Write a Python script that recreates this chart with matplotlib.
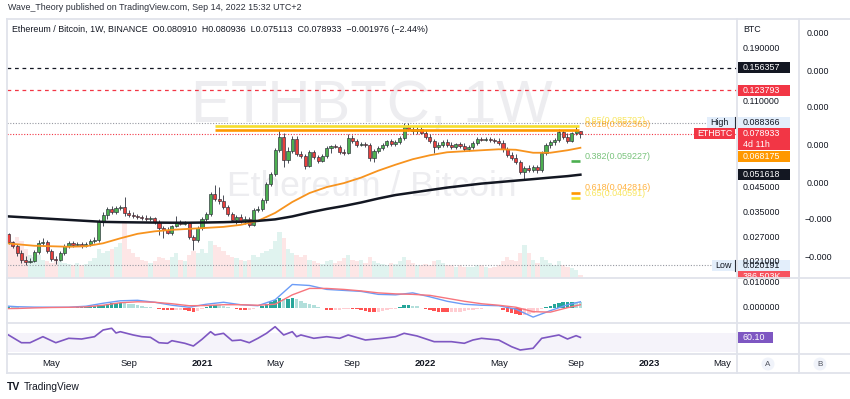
import matplotlib
matplotlib.use("Agg")
import matplotlib.pyplot as plt
import numpy as np
import pandas as pd
from matplotlib.patches import Rectangle, Circle

plt.rcParams['font.family'] = ['Liberation Sans', 'DejaVu Sans']

# ---------------- data (weekly ETH/BTC, Binance) ----------------
candle_start = "2020-02-24"
opens = [0.02800, 0.02579, 0.02475, 0.02303, 0.02143, 0.02099, 0.02121, 0.02327, 0.02552, 0.02579,
         0.02351, 0.02165, 0.02143, 0.02303, 0.02475, 0.02552, 0.02500, 0.02526, 0.02475, 0.02526,
         0.02605, 0.02632, 0.03201, 0.03404, 0.03621, 0.03511, 0.03659, 0.03696, 0.03475, 0.03404,
         0.03370, 0.03335, 0.03301, 0.03267, 0.03301, 0.03168, 0.02978, 0.02918, 0.02829, 0.03040,
         0.03168, 0.03103, 0.03135, 0.02715, 0.02632, 0.02978, 0.03267, 0.03440, 0.04225, 0.04013,
         0.03932, 0.03696, 0.03440, 0.03234, 0.03335, 0.03201, 0.03267, 0.03072, 0.03584, 0.03621,
         0.03972, 0.04683, 0.05191, 0.06645, 0.07595, 0.05995, 0.06577, 0.07440, 0.06377, 0.06247,
         0.05636, 0.06509, 0.06183, 0.05934, 0.06247, 0.06783, 0.06924, 0.06853, 0.06509, 0.06443,
         0.07517, 0.07289, 0.06995, 0.07068, 0.06995, 0.06119, 0.06577, 0.06783, 0.06995, 0.07289,
         0.07068, 0.07214, 0.07517, 0.08418, 0.08247, 0.08079, 0.08247, 0.07914, 0.07595, 0.07289,
         0.06853, 0.06995, 0.07214, 0.06995, 0.06853, 0.07068, 0.06924, 0.06713, 0.06853, 0.07141,
         0.07440, 0.07365, 0.07440, 0.07365, 0.07289, 0.07141, 0.06713, 0.06311, 0.06119, 0.05873,
         0.05299, 0.05521, 0.05409, 0.05578, 0.05409, 0.06443, 0.06995, 0.07214, 0.07365, 0.07996,
         0.07595, 0.07289, 0.07914, 0.080910]
highs = [0.02829, 0.02605, 0.02526, 0.02375, 0.02233, 0.02187, 0.02375, 0.02632, 0.02687, 0.02632,
         0.02400, 0.02233, 0.02351, 0.02526, 0.02605, 0.02605, 0.02579, 0.02579, 0.02579, 0.02660,
         0.02715, 0.03267, 0.03511, 0.03696, 0.03735, 0.03735, 0.03773, 0.04097, 0.03584, 0.03511,
         0.03440, 0.03404, 0.03404, 0.03370, 0.03335, 0.03234, 0.03040, 0.03009, 0.03072, 0.03370,
         0.03234, 0.03201, 0.03168, 0.02771, 0.03040, 0.03335, 0.03511, 0.04313, 0.04635, 0.04541,
         0.04182, 0.03773, 0.03511, 0.03404, 0.03440, 0.03370, 0.03335, 0.03659, 0.03735, 0.04055,
         0.04780, 0.05299, 0.06783, 0.08163, 0.07914, 0.06853, 0.07674, 0.07674, 0.06577, 0.06377,
         0.06645, 0.06645, 0.06311, 0.06377, 0.06924, 0.06995, 0.07068, 0.06995, 0.06713, 0.07833,
         0.07753, 0.07440, 0.07214, 0.07214, 0.07141, 0.06713, 0.06924, 0.07141, 0.07365, 0.07440,
         0.07365, 0.07674, 0.08772, 0.088366, 0.08505, 0.08418, 0.08418, 0.08163, 0.07833, 0.07440,
         0.07214, 0.07365, 0.07440, 0.07214, 0.07141, 0.07214, 0.07141, 0.06995, 0.07289, 0.07595,
         0.07595, 0.07595, 0.07595, 0.07517, 0.07517, 0.07365, 0.06853, 0.06509, 0.06377, 0.05995,
         0.05636, 0.05694, 0.05694, 0.05694, 0.06577, 0.07141, 0.07365, 0.07517, 0.08247, 0.08163,
         0.07914, 0.07996, 0.08505, 0.080936]
lows = [0.02526, 0.02424, 0.02233, 0.02078, 0.020191, 0.02078, 0.02099, 0.02279, 0.02475, 0.02303,
        0.02121, 0.02056, 0.02121, 0.02256, 0.02424, 0.02449, 0.02475, 0.02424, 0.02449, 0.02475,
        0.02552, 0.02579, 0.03040, 0.03267, 0.03440, 0.03440, 0.03584, 0.03370, 0.03335, 0.03301,
        0.03267, 0.03234, 0.03201, 0.03201, 0.03103, 0.02771, 0.02687, 0.02800, 0.02771, 0.03009,
        0.03072, 0.03072, 0.02660, 0.02375, 0.02579, 0.02918, 0.03201, 0.03370, 0.03932, 0.03812,
        0.03621, 0.03370, 0.03168, 0.03103, 0.03135, 0.03103, 0.03009, 0.03040, 0.03511, 0.03547,
        0.03852, 0.04588, 0.05085, 0.06509, 0.05578, 0.05813, 0.06443, 0.06247, 0.06119, 0.05465,
        0.05578, 0.06057, 0.05813, 0.05873, 0.06119, 0.06443, 0.06783, 0.06377, 0.06311, 0.06377,
        0.07141, 0.06853, 0.06924, 0.06853, 0.05934, 0.05873, 0.06443, 0.06645, 0.06853, 0.06924,
        0.06924, 0.07068, 0.07365, 0.08079, 0.07833, 0.07833, 0.07833, 0.07440, 0.07141, 0.06443,
        0.06713, 0.06853, 0.06853, 0.06713, 0.06713, 0.06783, 0.06577, 0.06577, 0.06713, 0.06995,
        0.07289, 0.07289, 0.07214, 0.07141, 0.06995, 0.06509, 0.06183, 0.05995, 0.05753, 0.05191,
        0.04930, 0.05299, 0.05299, 0.05244, 0.05299, 0.06311, 0.06783, 0.06995, 0.07214, 0.07440,
        0.07141, 0.07214, 0.07753, 0.075113]
closes = [0.02579, 0.02475, 0.02303, 0.02143, 0.02099, 0.02121, 0.02327, 0.02552, 0.02579, 0.02351,
          0.02165, 0.02143, 0.02303, 0.02475, 0.02552, 0.02500, 0.02526, 0.02475, 0.02526, 0.02605,
          0.02632, 0.03201, 0.03404, 0.03621, 0.03511, 0.03659, 0.03696, 0.03475, 0.03404, 0.03370,
          0.03335, 0.03301, 0.03267, 0.03301, 0.03168, 0.02978, 0.02918, 0.02829, 0.03040, 0.03168,
          0.03103, 0.03135, 0.02715, 0.02632, 0.02978, 0.03267, 0.03440, 0.04225, 0.04013, 0.03932,
          0.03696, 0.03440, 0.03234, 0.03335, 0.03201, 0.03267, 0.03072, 0.03584, 0.03621, 0.03972,
          0.04683, 0.05191, 0.06645, 0.07595, 0.05995, 0.06577, 0.07440, 0.06377, 0.06247, 0.05636,
          0.06509, 0.06183, 0.05934, 0.06247, 0.06783, 0.06924, 0.06853, 0.06509, 0.06443, 0.07517,
          0.07289, 0.06995, 0.07068, 0.06995, 0.06119, 0.06577, 0.06783, 0.06995, 0.07289, 0.07068,
          0.07214, 0.07517, 0.08418, 0.08247, 0.08079, 0.08247, 0.07914, 0.07595, 0.07289, 0.06853,
          0.06995, 0.07214, 0.06995, 0.06853, 0.07068, 0.06924, 0.06713, 0.06853, 0.07141, 0.07440,
          0.07365, 0.07440, 0.07365, 0.07289, 0.07141, 0.06713, 0.06311, 0.06119, 0.05873, 0.05299,
          0.05521, 0.05409, 0.05578, 0.05409, 0.06443, 0.06995, 0.07214, 0.07365, 0.07996, 0.07595,
          0.07289, 0.07914, 0.08091, 0.078933]
volume_k = [5000, 5600, 6200, 5600, 4400, 3500, 3100, 3500, 2700, 2500,
            2200, 2700, 2500, 2200, 2100, 2000, 2200, 1900, 2100, 2500,
            3000, 4400, 3700, 4000, 4400, 4700, 5200, 8500, 4400, 3700,
            3100, 2700, 2500, 2200, 2500, 3100, 3000, 2700, 3200, 3700,
            2700, 2500, 3500, 4000, 3700, 4400, 3700, 5600, 5000, 4700,
            4000, 3500, 3100, 3000, 2700, 2500, 2700, 3500, 3100, 3700,
            4000, 4400, 5600, 6900, 6000, 4400, 3700, 3500, 3100, 3500,
            2700, 2500, 2200, 2100, 2500, 2700, 2200, 2500, 3000, 3500,
            2700, 2500, 2700, 2200, 3100, 2500, 2200, 2100, 2000, 2200,
            2100, 2500, 3100, 2700, 2200, 2000, 1900, 2100, 2000, 2500,
            2700, 2200, 2000, 1900, 1700, 1900, 1700, 1600, 1700, 2000,
            1900, 1600, 1500, 1600, 1900, 2500, 3100, 2700, 2500, 3700,
            5000, 3700, 2700, 2200, 3100, 2700, 2200, 2000, 2500, 1900,
            1700, 1500, 1250, 386.503]
macd_hist_e3 = [0.3, 0.2, 0.1, -0.1, -0.2, -0.2, -0.1,
                -0.05, 0.1, 0.1, 0.0, -0.2, -0.3, -0.2, -0.1, 0.0, 0.1, 0.1, 0.2,
                0.4, 0.6, 0.9, 1.2, 1.5, 1.7, 1.8, 2.0, 1.9,
                1.6, 1.3, 1.0, 0.7, 0.4, 0.2, 0.0,
                -0.4, -0.8, -1.0, -1.1, -1.0, -0.9, -1.1, -1.4, -1.6, -1.3,
                -0.6, 0.2, 0.9, 1.0, 0.9, 0.6, 0.2,
                -0.3, -0.7, -1.0, -1.1, -1.0, -0.7,
                0.0, 0.7, 1.5, 2.3, 3.0, 3.7, 3.5, 3.6, 3.9,
                3.4, 2.7, 2.0, 1.5, 1.0,
                0.4, -0.2, -0.8, -1.1, -1.0, -0.8, -0.6, -0.4, -0.5,
                -0.7, -1.0, -1.2, -1.6, -1.8, -1.5, -1.2, -0.9, -0.7, -0.4,
                0.3, 0.9, 1.0, 0.8, 0.5,
                -0.3, -0.7, -1.1, -1.4, -1.6, -1.7, -1.8, -1.8, -1.7,
                -1.5, -1.3, -1.1, -0.9, -0.6, -0.4, -0.2, 0.0, -0.1,
                -0.3, -0.9, -1.6, -2.2, -2.6, -2.8, -2.7, -2.4, -1.9,
                -1.3, -0.6, 0.1, 0.8, 1.3,
                1.8, 2.1, 2.3, 2.4, 2.3, 2.2]

# line indicators sampled every 4 weeks (+ the last week)
line_start = "2020-02-10"
line_last = "2022-09-12"
ma_orange = [0.02552, 0.02513, 0.02475, 0.02462, 0.02449, 0.02462, 0.02539, 0.02673, 0.02800, 0.02873,
             0.02918, 0.02948, 0.02978, 0.03009, 0.03072, 0.03201, 0.03475, 0.03892, 0.04269, 0.04541,
             0.04731, 0.05009, 0.05381, 0.05723, 0.06057, 0.06311, 0.06509, 0.06577, 0.06645, 0.06713,
             0.06679, 0.06476, 0.06476, 0.06645, 0.068175]
ma_black = [0.03370, 0.03335, 0.03301, 0.03267, 0.03234, 0.03201, 0.03168, 0.03158, 0.03151, 0.03145,
            0.03141, 0.03141, 0.03148, 0.03158, 0.03174, 0.03201, 0.03251, 0.03352, 0.03493, 0.03621,
            0.03735, 0.03872, 0.04034, 0.04182, 0.04291, 0.04403, 0.04517, 0.04611, 0.04707, 0.04780,
            0.04855, 0.04930, 0.05009, 0.05085, 0.051618]
macd_e3 = [0.78, 0.39, 0.23, 0.19, 0.19, 0.58, 1.75, 2.72, 2.92, 2.14, 0.97, 0.19, 1.36, 2.14, 1.17,
           0.78, 3.11, 9.14, 8.75, 7.20, 6.81, 6.42, 5.25, 5.06, 5.84, 4.28, 2.53, 1.36, 0.97, 0.78,
           -0.58, -3.70, -1.17, 1.17, 2.33]
signal_e3 = [-0.39, -0.31, -0.08, 0.08, 0.16, 0.31, 0.97, 1.95, 2.33, 2.14, 1.56, 0.78, 0.86, 1.17, 1.17,
             0.97, 1.36, 5.06, 7.59, 7.59, 7.20, 6.61, 5.84, 5.45, 5.25, 4.86, 3.70, 2.53, 1.56, 0.97,
             0.19, -1.56, -1.75, 0.00, 1.17]

rsi_weeks = [2, 5, 7, 10, 13, 16, 19, 22, 24, 26, 27, 28, 31, 33, 35, 37, 39, 40, 43, 45,
             47, 49, 50, 52, 54, 56, 58, 60, 62, 64, 66, 68, 69, 70, 73, 76, 79, 81, 85, 89,
             92, 94, 97, 101, 105, 108, 110, 112, 116, 119, 121, 124, 126, 130, 132, 134, 135]
rsi_values = [65.2, 48.9, 48.9, 61.6, 48.9, 58.2, 56.7, 61.6, 75.7, 79.3, 69.4, 72.1, 65.2, 61.6, 60.3,
              48.9, 47.7, 53.2, 47.7, 42.0, 56.1, 72.1, 65.2, 68.7, 53.2, 54.6, 48.9, 58.2, 68.7, 82.6,
              65.2, 72.1, 61.6, 65.2, 58.2, 61.6, 58.2, 65.2, 54.6, 58.2, 61.6, 68.7, 63.1, 51.1, 51.1,
              47.7, 54.6, 58.2, 54.6, 40.5, 33.6, 37.2, 58.2, 65.2, 56.7, 63.7, 60.10]

level_black = 0.156357
level_red = 0.123793
high_val = 0.088366
low_val = 0.020191
last_price = 0.078933
fib_upper = [("0.65", 0.085797, "#f5dd2c"), ("0.618", 0.082363, "#ff9800")]
fib_upper_span = ("2021-01-25", "2022-09-10")
fib_lower = [("0.382", 0.059227, "#4caf50"), ("0.618", 0.042816, "#ff9800"), ("0.65", 0.040591, "#f5dd2c")]
fib_lower_span = ("2022-08-28", "2022-09-11")
price_ticks = [0.19, 0.11, 0.045, 0.035, 0.027, 0.021]
time_ticks = ["2020-05-04", "2020-09-07", "2021-01-04", "2021-05-03", "2021-09-06",
              "2022-01-03", "2022-05-02", "2022-09-05", "2023-01-02", "2023-05-01"]
time_labels = ["May", "Sep", "2021", "May", "Sep", "2022", "May", "Sep", "2023", "May"]

# ---------------- layout helpers ----------------
W, H = 850, 399
fig = plt.figure(figsize=(8.5, 3.99), dpi=100)
fig.patch.set_facecolor("white")

def frect(x0, y0, x1, y1):
    return [x0 / W, 1 - y1 / H, (x1 - x0) / W, (y1 - y0) / H]

base = pd.Timestamp("2020-02-10")
def wk(d):
    return (pd.Timestamp(d) - base).days / 7.0

XL = (7.1 / 4.3, 737.1 / 4.3)
PL, PR = 7, 737

ax_vol = fig.add_axes(frect(PL, 19, PR, 278))
ax = fig.add_axes(frect(PL, 19, PR, 278))
ax_m = fig.add_axes(frect(PL, 278, PR, 323))
ax_r = fig.add_axes(frect(PL, 323, PR, 354))
for a in (ax_vol, ax, ax_m, ax_r):
    a.set_xlim(*XL)
    a.set_axis_off()
ax_vol.set_zorder(1)
ax.set_zorder(2)
ax.patch.set_alpha(0)
ax.set_yscale("log")
ax.set_ylim(0.01773, 0.2583)
ax_vol.set_ylim(0, 39000)
ax_m.set_ylim(-0.006024, 0.011693)
ax_r.set_ylim(25.16, 90.4)

# ---------------- candles ----------------
dates = pd.date_range(candle_start, periods=len(closes), freq="7D")
x = np.array([wk(d) for d in dates])
o = np.array(opens); h = np.array(highs); l = np.array(lows); c = np.array(closes)
up = c >= o
green, red = "#4caf50", "#e8403d"
lo_b = np.minimum(o, c); hi_b = np.maximum(o, c)
ax.vlines(x, l, h, color="#4a4d57", lw=0.7, zorder=3)
ax.bar(x, hi_b - lo_b, bottom=lo_b, width=0.72, color=np.where(up, green, red),
       edgecolor="#2a2e39", linewidth=0.45, zorder=4)

# volume
ax_vol.bar(x, volume_k, width=1.0, color=np.where(up, "#e0f3ef", "#fde6e6"), linewidth=0, zorder=2)
ax_vol.text(0.5, 0.66, "ETHBTC, 1W", transform=ax_vol.transAxes, ha="center", va="center",
            fontsize=43, color="#ededf0", zorder=0)
ax_vol.text(0.5, 0.355, "Ethereum / Bitcoin", transform=ax_vol.transAxes, ha="center", va="center",
            fontsize=25.5, color="#ededf0", zorder=0)

# moving averages
line_dates = list(pd.date_range(line_start, periods=len(ma_orange) - 1, freq="28D")) + [pd.Timestamp(line_last)]
lx = np.array([wk(d) for d in line_dates])
ax.plot(lx, ma_orange, color="#f7931e", lw=1.3, zorder=5)
ax.plot(lx, ma_black, color="#131722", lw=1.8, zorder=5)

# horizontal levels
ax.axhline(level_black, color="#131722", lw=0.9, ls=(0, (3, 3)), zorder=2)
ax.axhline(level_red, color="#f23645", lw=0.9, ls=(0, (3, 3)), zorder=2)
ax.axhline(high_val, color="#9598a1", lw=0.8, ls=(0, (1, 1.5)), zorder=2)
ax.axhline(last_price, color="#f23645", lw=0.8, ls=(0, (1, 1.5)), zorder=2)
ax.axhline(low_val, color="#9598a1", lw=0.8, ls=(0, (1, 1.5)), zorder=2)

# fib levels
fx0, fx1 = wk(fib_upper_span[0]), wk(fib_upper_span[1])
for name, val, col in fib_upper:
    ax.hlines(val, fx0, fx1, color=col, lw=1.9, zorder=6)
    ax.text(fx1 + 1.3, val * 1.004, f"{name}({val:.6f})", color=col, alpha=0.75,
            fontsize=6.5, va="bottom", ha="left", zorder=6)
gx0, gx1 = wk(fib_lower_span[0]), wk(fib_lower_span[1])
for name, val, col in fib_lower:
    ax.hlines(val, gx0, gx1, color=col, lw=1.9, zorder=6)
    ax.text(fx1 + 1.3, val * 1.004, f"{name}({val:.6f})", color=col, alpha=0.75,
            fontsize=6.5, va="bottom", ha="left", zorder=6)

# ---------------- MACD ----------------
hist = np.array(macd_hist_e3) * 1e-3
prev = np.concatenate([[hist[0]], hist[:-1]])
hcol = np.where(hist >= 0, np.where(hist >= prev, "#26a69a", "#b2dfdb"),
                np.where(hist < prev, "#ff5252", "#ffcdd2"))
ax_m.bar(x, hist, width=0.8, color=hcol, linewidth=0)
ax_m.plot(lx, np.array(macd_e3) * 1e-3, color="#6b9cf7", lw=1.0)
ax_m.plot(lx, np.array(signal_e3) * 1e-3, color="#f7757d", lw=1.0)

# ---------------- RSI ----------------
ax_r.axhspan(30, 70, color="#7e57c2", alpha=0.07, lw=0)
ax_r.plot(rsi_weeks, rsi_values, color="#7e57c2", lw=1.2)

# ---------------- overlay (frame, axes labels, texts) ----------------
ov = fig.add_axes([0, 0, 1, 1])
ov.set_xlim(0, W); ov.set_ylim(H, 0); ov.set_axis_off(); ov.patch.set_alpha(0)
ov.set_zorder(10)

def ypx(a, v):
    return H - a.transData.transform((XL[0], v))[1]

def xpx(a, v):
    return a.transData.transform((v, 1))[0]

FS = 6.4
TXT = "#131722"

def box(x0, x1, yc, hgt, fc):
    ov.add_patch(Rectangle((x0, yc - hgt / 2), x1 - x0, hgt, fc=fc, ec="none", zorder=3))

def lab(yc, text, fc=None, fg=TXT, x=743, hgt=11, x0=738, x1=790):
    if fc:
        box(x0, x1, yc, hgt, fc)
    ov.text(x, yc, text, fontsize=FS, color=fg, va="center", ha="left", zorder=4)

# header text
ov.text(8, 8, "Wave_Theory published on TradingView.com, Sep 14, 2022 15:32 UTC+2",
        fontsize=FS, color="#2a2e39", va="center")
ov.text(12, 30, "Ethereum / Bitcoin, 1W, BINANCE  O0.080910  H0.080936  L0.075113  C0.078933  \u22120.001976 (\u22122.44%)",
        fontsize=FS, color=TXT, va="center")

# price axis column A
lab(29, "BTC")
for t in price_ticks:
    lab(ypx(ax, t), f"{t:.6f}")
lab(ypx(ax, level_black), f"{level_black:.6f}", fc="#131722", fg="white")
lab(ypx(ax, level_red), f"{level_red:.6f}", fc="#f23645", fg="white")
lab(ypx(ax, high_val), f"{high_val:.6f}", fc="#e3eefb")
yl = ypx(ax, last_price)
box(738, 790, yl + 5.5, 22, "#f23645")
ov.text(743, yl, f"{last_price:.6f}", fontsize=FS, color="white", va="center", zorder=4)
ov.text(743, yl + 11, "4d 11h", fontsize=FS, color="white", va="center", zorder=4)
y_or = max(ypx(ax, ma_orange[-1]), yl + 16.5 + 6)
lab(y_or, f"{ma_orange[-1]:.6f}", fc="#ff9800", fg="white")
lab(ypx(ax, ma_black[-1]), f"{ma_black[-1]:.6f}", fc="#131722", fg="white")
y_vol = H - ax_vol.transData.transform((XL[0], volume_k[-1]))[1]
lab(y_vol + 1.5, "386.503K", fc="#f7525f", fg="white")
lab(ypx(ax, low_val), f"{low_val:.6f}", fc="#e3eefb")
# hide below main pane in axis column
ov.add_patch(Rectangle((737.5, 278.6), 61, 5, fc="white", ec="none", zorder=5))
ov.text(743, ypx(ax_m, 0.01), "0.010000", fontsize=FS, color=TXT, va="center", zorder=6)
ov.text(743, ypx(ax_m, 0.0), "0.000000", fontsize=FS, color=TXT, va="center", zorder=6)
yr = ypx(ax_r, rsi_values[-1])
box(738, 773, yr, 11, "#7e57c2")
ov.text(743, yr, f"{rsi_values[-1]:.2f}", fontsize=FS, color="white", va="center", zorder=4)

# column B
for yb in [34, 71, 108, 146, 183]:
    ov.text(807, yb, "0.000", fontsize=FS, color=TXT, va="center")
for yb in [219, 257]:
    ov.text(805, yb, "\u22120.000", fontsize=FS, color=TXT, va="center")

# chart-side labels
yh = ypx(ax, high_val)
box(707, 735, yh, 11, "#e3eefb")
ov.text(710, yh, "High", fontsize=FS, color=TXT, va="center", zorder=4)
ov.plot([735.5, 735.5], [yh - 5.5, yh + 5.5], color="#2a2e39", lw=0.8, zorder=4)
box(694, 735, yl, 11, "#f23645")
ov.text(697, yl, "ETHBTC", fontsize=FS, color="white", va="center", zorder=4)
ylow = ypx(ax, low_val)
box(712, 735, ylow, 11, "#e3eefb")
ov.text(715, ylow, "Low", fontsize=FS, color=TXT, va="center", zorder=4)
ov.plot([735.5, 735.5], [ylow - 5.5, ylow + 5.5], color="#2a2e39", lw=0.8, zorder=4)

# frame / separators
sep = "#e0e3eb"
for yy in (19, 278, 323, 354, 373):
    ov.plot([7, W], [yy, yy], color=sep, lw=1.3, zorder=7)
for xx in (7, 737, 799):
    ov.plot([xx, xx], [19, 373], color=sep, lw=1.3, zorder=7)

# time axis
for d, t in zip(time_ticks, time_labels):
    xx = xpx(ax_r, wk(d))
    ov.text(xx, 364, t, fontsize=6.8, color=TXT, ha="center", va="center",
            fontweight="bold" if t.isdigit() else "normal")
for cx, t in ((768, "A"), (820, "B")):
    ov.add_patch(Circle((cx, 364), 6.5, fc="#f0f3fa", ec="none", zorder=3))
    ov.text(cx, 364.3, t, fontsize=5.8, color="#50535e", ha="center", va="center", zorder=4)

# TradingView logo
ov.text(7, 387, "TV", fontsize=7.5, fontweight="bold", color=TXT, va="center")
ov.text(24, 387, "TradingView", fontsize=7.3, color=TXT, va="center")

fig.savefig("out.png", dpi=100, facecolor="white")
